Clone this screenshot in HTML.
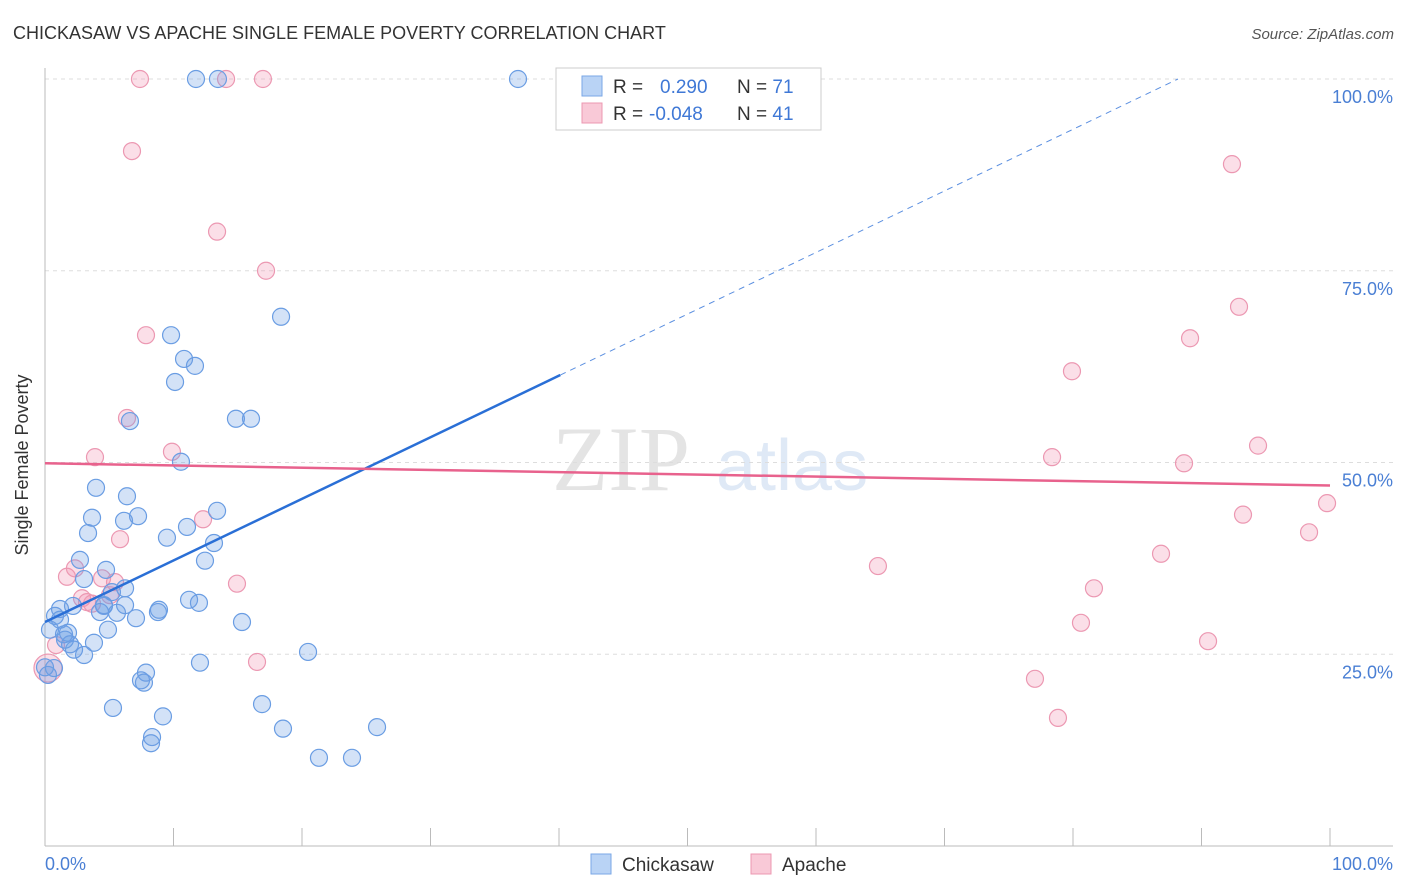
<!DOCTYPE html>
<html><head><meta charset="utf-8"><style>
body{margin:0;background:#fff;font-family:"Liberation Sans",sans-serif}
svg{display:block}
</style></head><body>
<svg width="1406" height="892" viewBox="0 0 1406 892">
<text x="13" y="39" font-size="18" fill="#333">CHICKASAW VS APACHE SINGLE FEMALE POVERTY CORRELATION CHART</text>
<text x="1394" y="39" font-size="15" fill="#555" font-style="italic" text-anchor="end">Source: ZipAtlas.com</text>
<g>
<text x="552" y="490" font-size="92" font-family="Liberation Serif,serif" fill="#e4e4e4">ZIP</text>
<text x="716" y="490" font-size="72" fill="#dfe9f6">atlas</text>
</g>
<g id="grid"></g>
<line x1="45" y1="68" x2="45" y2="846" stroke="#bbb"/>
<line x1="45" y1="846" x2="1393" y2="846" stroke="#bbb"/>
<g id="ticks"></g>
<text x="18" y="455" font-size="18" fill="#333" transform="rotate(-90 28 455)" text-anchor="middle">Single Female Poverty</text>
<text x="45" y="870" font-size="18" fill="#4a7fd4">0.0%</text>
<text x="1393" y="870" font-size="18" fill="#4a7fd4" text-anchor="end">100.0%</text>
<g id="pts"></g>
<g id="lines"></g>
<g>
<rect x="556" y="68" width="265" height="62" fill="#fff" stroke="#ccc"/>
<rect x="582" y="76" width="20" height="20" fill="#b9d3f5" stroke="#7aa7e6"/>
<rect x="582" y="103" width="20" height="20" fill="#f9c9d7" stroke="#ec98b2"/>
<text x="613" y="93" font-size="19" fill="#333">R = <tspan fill="#3f78d6" x="660">0.290</tspan><tspan x="737" fill="#333">N = </tspan><tspan fill="#3f78d6">71</tspan></text>
<text x="613" y="120" font-size="19" fill="#333">R = <tspan fill="#3f78d6" x="649">-0.048</tspan><tspan x="737" fill="#333">N = </tspan><tspan fill="#3f78d6">41</tspan></text>
</g>
<g>
<rect x="591" y="854" width="20" height="20" fill="#b9d3f5" stroke="#7aa7e6"/>
<text x="622" y="871" font-size="19" fill="#333">Chickasaw</text>
<rect x="751" y="854" width="20" height="20" fill="#f9c9d7" stroke="#ec98b2"/>
<text x="782" y="871" font-size="19" fill="#333">Apache</text>
</g>
</svg>
<script>
const yTicks=[25,50,75,100];
const yTickLabels=["25.0%","50.0%","75.0%","100.0%"];
const xTickCount=10;
const blueX=[11.75,13.46,36.81,18.37,9.81,10.82,11.67,10.12,6.61,14.86,16.03,10.58,3.97,6.38,3.66,6.15,7.24,13.39,11.05,3.35,9.49,13.15,2.72,12.45,4.75,3.04,6.23,5.21,11.21,11.98,4.59,8.87,8.79,1.17,2.18,5.60,7.08,0.78,15.33,4.90,1.48,1.79,3.81,1.95,2.26,3.04,20.47,12.06,0.70,0.23,7.86,7.47,7.70,16.89,5.29,9.18,18.52,25.84,8.33,8.25,21.32,23.89,4.59,4.28,0.39,0,6.23,1.17,1.56];
const blueY=[100,100,100,69.0,66.6,63.5,62.6,60.5,55.4,55.7,55.7,50.1,46.7,45.6,42.8,42.4,43.0,43.7,41.6,40.8,40.2,39.5,37.3,37.2,36.0,34.8,33.6,33.1,32.1,31.7,31.3,30.8,30.5,30.9,31.3,30.4,29.7,30.0,29.2,28.2,27.6,27.8,26.5,26.3,25.6,24.9,25.3,23.9,23.2,22.3,22.6,21.6,21.3,18.5,18.0,16.9,15.3,15.5,14.2,13.4,11.5,11.5,31.4,30.5,28.2,23.3,31.4,29.5,26.9];
const pinkX=[7.39,14.09,16.96,6.77,13.39,17.20,7.86,6.38,9.88,3.89,12.30,5.84,1.71,2.33,14.94,5.45,4.44,2.88,3.27,3.66,5.06,16.50,92.37,92.92,89.11,79.92,78.37,88.64,94.40,93.23,99.77,98.37,86.85,64.82,81.63,80.62,90.51,77.04,78.83,0.86,0.23];
const pinkY=[100,100,100,90.6,80.1,75.0,66.6,55.8,51.4,50.7,42.6,40.0,35.1,36.2,34.2,34.4,34.9,32.3,31.8,31.6,32.7,24.0,88.9,70.3,66.2,61.9,50.7,49.9,52.2,43.2,44.7,40.9,38.1,36.5,33.6,29.1,26.7,21.8,16.7,26.2,23.2];
const blueTrend=[29.2,0.803];
const pinkTrend=[49.9,-0.029];
const NS="http://www.w3.org/2000/svg";
const X0=45,X1=1330,Y0=846,Y100=79;
const sx=v=>X0+(X1-X0)*v/100;
const sy=v=>Y0-(Y0-Y100)*v/100;
function mk(tag,attrs,parent){const e=document.createElementNS(NS,tag);for(const k in attrs)e.setAttribute(k,attrs[k]);parent.appendChild(e);return e;}
const grid=document.getElementById('grid');
yTicks.forEach((t,i)=>{
 const l=mk('line',{x1:45,x2:1393,y1:sy(t),y2:sy(t),stroke:'#ddd','stroke-dasharray':'4,4'},grid);
 
 
 const tx=mk('text',{x:1393,y:sy(t)+24,'font-size':18,fill:'#4a7fd4','text-anchor':'end'},grid);
 tx.textContent=yTickLabels[i];
 
 
});
const ticks=document.getElementById('ticks');
for(let i=0;i<=xTickCount;i++){
 const x=sx(i*100/xTickCount);
 const l=mk('line',{x1:x,x2:x,y1:828,y2:846,stroke:'#bbb'},ticks);
 
 
}
const pts=document.getElementById('pts');
pinkX.forEach((v,i)=>{
 const c=mk('circle',{cx:sx(v),cy:sy(pinkY[i]),r:(i==pinkX.length-1?14:8.5),fill:'rgba(242,150,180,0.3)',stroke:'#ec98b2','stroke-width':1.2},pts);
 
 
});
blueX.forEach((v,i)=>{
 const c=mk('circle',{cx:sx(v),cy:sy(blueY[i]),r:8.5,fill:'rgba(110,160,230,0.3)',stroke:'#6a9de3','stroke-width':1.2},pts);
 
 
});
const lines=document.getElementById('lines');
const bAt=x=>blueTrend[0]+blueTrend[1]*x;
const bEnd=(100-blueTrend[0])/blueTrend[1];
const b1=mk('line',{x1:sx(0),y1:sy(bAt(0)),x2:sx(40.1),y2:sy(bAt(40.1)),stroke:'#2a6fd6','stroke-width':2.5},lines);


const b2=mk('line',{x1:sx(40.1),y1:sy(bAt(40.1)),x2:sx(bEnd),y2:sy(100),stroke:'#5b8fe0','stroke-width':1,'stroke-dasharray':'6,5'},lines);


const p1=mk('line',{x1:sx(0),y1:sy(pinkTrend[0]),x2:sx(100),y2:sy(pinkTrend[0]+pinkTrend[1]*100),stroke:'#e8628d','stroke-width':2.5},lines);


</script>
</body></html>
